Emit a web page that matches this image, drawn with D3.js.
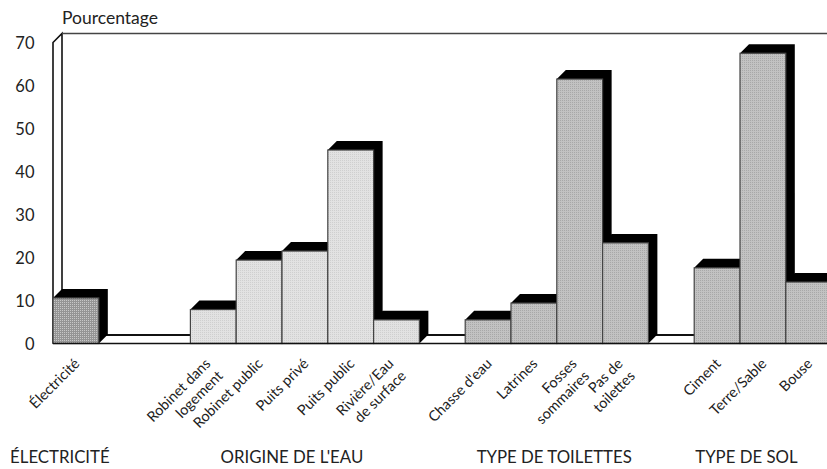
<!DOCTYPE html>
<html><head><meta charset="utf-8">
<script src="https://cdn.jsdelivr.net/npm/d3@7"></script>
<style>html,body{margin:0;padding:0;background:#fff}svg{display:block}text{font-family:Lato,sans-serif;fill:#222}</style>
</head><body><div id="c"></div>
<script>
const slots = ["Électricité","s1","s2","Robinet dans|logement","Robinet public","Puits privé","Puits public","Rivière/Eau|de surface","s8","Chasse d'eau","Latrines","Fosses|sommaires","Pas de|toilettes","s13","Ciment","Terre/Sable","Bouse"];
const values = [10.6,null,null,7.9,19.4,21.5,45,5.5,null,5.5,9.4,61.5,23.4,null,17.6,67.5,14.3];
const styles = ["dark",null,null,"light","light","light","light","light",null,"mid","mid","mid","mid",null,"mid","mid","mid"];
const yTicks = [0,10,20,30,40,50,60,70];
const groupNames = ["ÉLECTRICITÉ","ORIGINE DE L'EAU","TYPE DE TOILETTES","TYPE DE SOL"];
const groupCentres = ["Électricité","Puits privé","Fosses|sommaires","Terre/Sable"];
const groupOffsets = [-16,-13,-25.5,-16.5];

const W=827,H=469,depth=9;
const svg=d3.select("#c").append("svg").attr("width",W).attr("height",H);
const x=d3.scaleBand().domain(slots).range([53,831.6]).padding(0);
const y=d3.scaleLinear().domain([0,70]).range([343.5,42.5]);

const defs=svg.append("defs");
[["dark","#959595","#c8c8c8",2],["light","#e2e2e2","#cfcfcf",2],["mid","#c2c2c2","#a8a8a8",2]].forEach(([id,bg,dot,s])=>{
  const p=defs.append("pattern").attr("id",id).attr("patternUnits","userSpaceOnUse").attr("width",s).attr("height",s);
  p.append("rect").attr("width",s).attr("height",s).attr("fill",bg);
  p.append("rect").attr("width",1).attr("height",1).attr("fill",dot);
});

// walls
const b=y(0),t=y(70),l=x.range()[0];
const wall=svg.append("g").attr("fill","none").attr("stroke","#111");
wall.append("path").attr("stroke-width",1.6).attr("d",`M${l},${b}V${t}L${l+depth},${t-depth}V${b-depth}`);
wall.append("path").attr("stroke","#444").attr("stroke-width",1.6).attr("d",`M${l+depth},${t-depth}H${W}`);
wall.append("path").attr("stroke-width",2).attr("d",`M${l+depth},${b-depth+0.5}H${W}`);
wall.append("path").attr("stroke-width",1).attr("d",`M${l},${b}L${l+depth},${b-depth}`);

// bars
const data=slots.map((s,i)=>({s,v:values[i],st:styles[i]})).filter(d=>d.v!==null);
const g=svg.append("g").selectAll("g").data(data).join("g");
g.append("path").attr("fill","#000").attr("d",d=>{
  const x0=x(d.s),x1=x0+x.bandwidth(),yt=y(d.v);
  return `M${x0},${yt}L${x0+depth},${yt-depth}H${x1+depth}V${b-depth}L${x1},${b}Z`;
});
g.append("rect").attr("x",d=>x(d.s)).attr("y",d=>y(d.v)).attr("width",x.bandwidth()).attr("height",d=>b-y(d.v))
 .attr("fill",d=>`url(#${d.st})`).attr("stroke","#444").attr("stroke-width",1.2);

// baseline
svg.append("line").attr("x1",l).attr("x2",W).attr("y1",b).attr("y2",b).attr("stroke","#111").attr("stroke-width",1.6);

// y axis
const ax=svg.append("g").attr("transform",`translate(${l-18.5},0)`).call(d3.axisLeft(y).tickValues(yTicks).tickSize(0).tickPadding(0));
ax.select(".domain").remove();
ax.selectAll("text").attr("font-size",16.5).attr("dy","0.36em").style("font-family","Lato,sans-serif");
svg.append("text").attr("x",62).attr("y",24).attr("font-size",17.5).text("Pourcentage");

// category labels
const lab=svg.append("g").selectAll("text").data(data).join("text")
 .attr("font-size",14.5).attr("text-anchor","end")
 .attr("transform",d=>`translate(${x(d.s)+x.bandwidth()/2+(d.s.includes("|")?-5.5:1)},361) rotate(-45)`);
lab.selectAll("tspan").data(d=>d.s.split("|").map((t,i)=>({t,i}))).join("tspan")
 .attr("x",0).attr("dy",d=>d.i===0?"0.35em":"1.2em").text(d=>d.t);

// group labels
svg.append("g").selectAll("text").data(groupNames).join("text")
 .attr("font-size",16.8).attr("text-anchor","middle").attr("y",463)
 .attr("x",(d,i)=>x(groupCentres[i])+x.bandwidth()/2+groupOffsets[i]).text(d=>d);
</script></body></html>
